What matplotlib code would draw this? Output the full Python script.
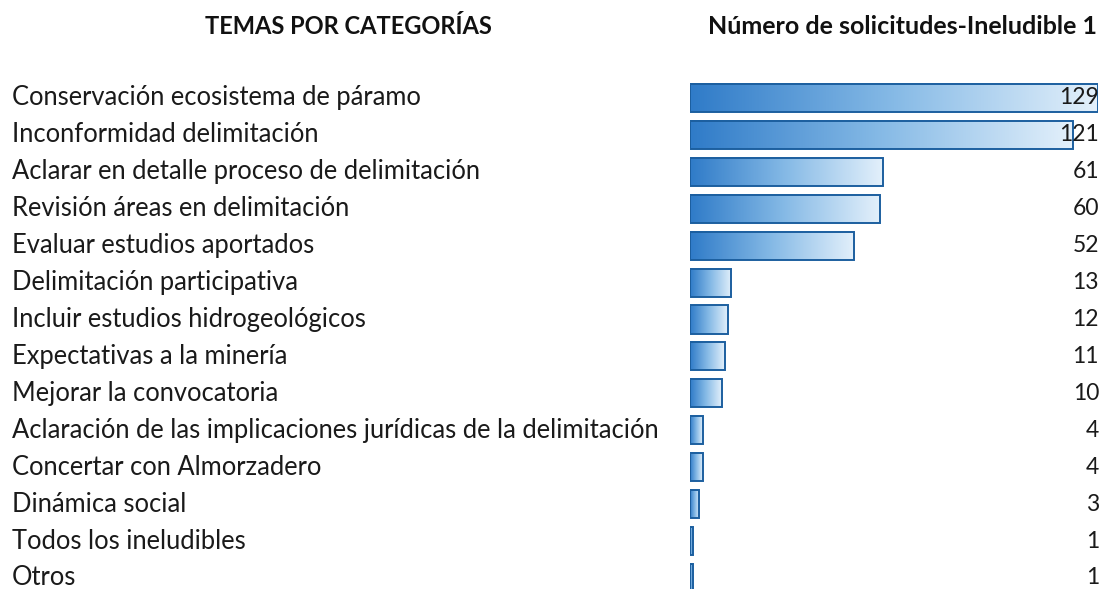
import numpy as np
import matplotlib.pyplot as plt
from matplotlib.colors import LinearSegmentedColormap
import matplotlib.transforms as mtransforms

temas = ["Conservación ecosistema de páramo", "Inconformidad delimitación",
         "Aclarar en detalle proceso de delimitación", "Revisión áreas en delimitación",
         "Evaluar estudios aportados", "Delimitación participativa",
         "Incluir estudios hidrogeológicos", "Expectativas a la minería",
         "Mejorar la convocatoria",
         "Aclaración de las implicaciones jurídicas de la delimitación",
         "Concertar con Almorzadero", "Dinámica social", "Todos los ineludibles", "Otros"]
solicitudes = [129, 121, 61, 60, 52, 13, 12, 11, 10, 4, 4, 3, 1, 1]

plt.rcParams['font.family'] = ['Lato', 'DejaVu Sans']

W, H = 1100, 589
fig = plt.figure(figsize=(W / 100, H / 100), dpi=100)
fig.patch.set_facecolor('white')

# axes in pixel coords: bars from x=690 to 1098, rows from y=98 to 578
x0, x1 = 690, 1098
top = 79.5
ax = fig.add_axes([x0 / W, 0, (x1 - x0) / W, (H - top) / H])
n = len(temas)
step = (578 - 98) / (n - 1)
ax.axis('off')

cmap = LinearSegmentedColormap.from_list('g', ['#2f7bc8', '#86bae6', '#e3f0fb'])
grad = np.linspace(0, 1, 256).reshape(1, -1)
h = 0.76
for i, v in enumerate(solicitudes):
    ax.imshow(grad, cmap=cmap, aspect='auto', extent=(0, v, i + h / 2, i - h / 2),
              interpolation='bilinear', zorder=1)
ax.barh(range(n), solicitudes, height=h, fill=False, edgecolor='#1c5f9f',
        linewidth=1.4, zorder=2)
ax.set_xlim(0, max(solicitudes))
ax.set_ylim(13 + (H - 578) / step, -0.5)

trans = mtransforms.blended_transform_factory(fig.transFigure, ax.transData)
for i, (t, v) in enumerate(zip(temas, solicitudes)):
    ax.text(12 / W, i, t, transform=trans, ha='left', va='center', fontsize=18.4,
            color='#1a1a1a')
    ax.text(1099 / W, i, str(v), transform=trans, ha='right', va='center',
            fontsize=16.5, color='#1a1a1a', zorder=3)

fig.text(348 / W, 1 - 27 / H, 'TEMAS POR CATEGORÍAS', ha='center', va='center',
         fontsize=17, fontweight='bold', color='#111111')
fig.text(1097 / W, 1 - 27 / H, 'Número de solicitudes-Ineludible 1', ha='right',
         va='center', fontsize=18, fontweight='bold', color='#111111')

fig.savefig('out.png', dpi=100, facecolor='white')
